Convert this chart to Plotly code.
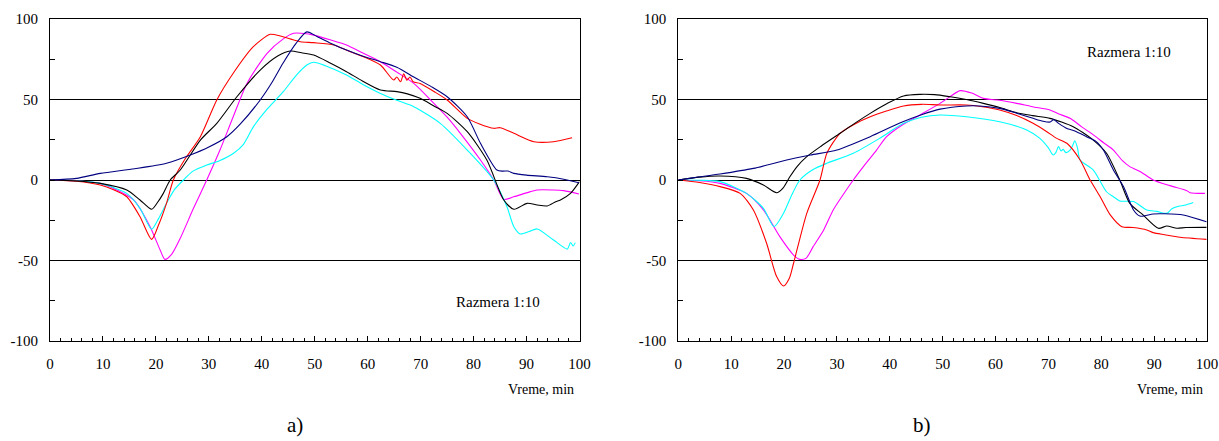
import plotly.graph_objects as go

# ---------------- data: panel a) ----------------
blue_a_x = [0, 5, 9.5, 16, 22, 26.5, 30, 33.4, 36, 39.7, 42, 44, 46.5, 48.5, 50.5, 53, 56, 59, 62.4, 65.5, 68.7, 72, 75, 78.8, 81.3, 84.4, 85.5, 86.5, 87.6, 90, 93.9, 97, 99.9]
blue_a_y = [0, 1, 4.1, 7, 10.4, 15.5, 20.5, 26.9, 35, 49.7, 61, 72.5, 85, 92, 89, 85, 80.7, 77, 73.5, 70, 64, 58, 51.7, 39.3, 22.8, 6.2, 5.5, 5.6, 4.1, 3, 2, 0.5, -1.7]

red_a_x = [0, 5, 9.5, 12, 14.5, 17, 19.2, 20.5, 22, 23.3, 25.5, 28.4, 31.5, 34.6, 38.4, 41.6, 43.5, 45.5, 47.3, 49.8, 53.6, 56.5, 59.2, 62.4, 64.9, 65.5, 66.2, 66.8, 67.4, 68, 68.6, 69.9, 72.5, 75, 78.8, 81, 83.8, 85, 87.6, 91.4, 95.1, 98.6]
red_a_y = [0, -0.8, -3.1, -6, -10.4, -22.8, -36.9, -28, -14.5, 0, 13, 26.9, 49.7, 66.3, 82.8, 90.5, 89.4, 87.5, 85.9, 85.3, 83.9, 80, 76.6, 71.4, 62.1, 64, 61, 66, 62, 64, 61, 60, 55, 49.7, 38.3, 35, 32.1, 32.5, 29, 23.8, 23.8, 26.3]

magenta_a_x = [0, 5, 9.5, 12.5, 15.8, 18.9, 20.8, 21.7, 23, 24.6, 27.1, 29.6, 32.1, 34.6, 37.2, 41, 44, 46, 48, 49.8, 53, 56, 59, 62.4, 65.5, 68.7, 72.5, 75, 77.5, 81.3, 83.8, 85.7, 87.6, 90, 92, 95, 97, 99.9]
magenta_a_y = [0, -0.6, -2.1, -6, -12.4, -29, -43.5, -49.3, -46, -36.2, -17.6, 0, 18.6, 39.3, 60, 78.7, 87.5, 91.1, 91, 90, 87, 83.9, 79, 73.5, 67, 60, 47.6, 39, 29, 12.4, 0, -12, -10.4, -8, -6.2, -6.2, -6.6, -8.7]

black_a_x = [0, 5, 9.5, 14.5, 17, 19.2, 20.3, 21.4, 22.7, 24.6, 28.4, 31.5, 35.3, 39.7, 43, 45.4, 47.5, 49.8, 53, 56, 59, 62.4, 65.5, 67.5, 69.9, 72.5, 75, 78.8, 82.5, 85.7, 87.6, 90.1, 92, 93.9, 95.5, 96.4, 98.3, 100]
black_a_y = [0, -0.6, -2.1, -6.2, -12.4, -18.2, -14, -8.3, 0, 6.2, 24.8, 35.2, 51.7, 68.3, 77, 80.1, 79, 77.6, 72.5, 67.3, 61.5, 55.9, 54.9, 53.5, 50.7, 46, 41.4, 30, 12.4, -12.4, -18.2, -14.5, -15.5, -16.1, -13.5, -12.4, -8.3, -1]

cyan_a_x = [0, 5, 9.5, 14.5, 17, 19.2, 20.5, 22, 23.5, 25.2, 27, 29.6, 32, 34.6, 36.5, 38.4, 41, 44.1, 46.5, 48.5, 49.8, 52, 56, 59, 62.4, 65.5, 68.7, 73.7, 78.8, 83.8, 86.3, 87.6, 88.8, 90.5, 92, 95.1, 97.7, 98.3, 98.8, 99.2]
cyan_a_y = [0, -0.6, -2.1, -8.3, -17.6, -30.6, -24, -14.5, -6, 0, 5.5, 9.3, 12, 16.5, 22, 33, 44, 55, 65, 71.4, 73.1, 71, 65.2, 59.5, 53.8, 49.5, 45.5, 35.2, 18.6, 0, -16.6, -29, -33.5, -32, -30.4, -37.3, -42.9, -38.8, -41, -38.9]

# ---------------- data: panel b) ----------------
blue_b_x = [0, 3, 7.9, 14.2, 20.5, 25, 30, 36.3, 42, 46, 49.5, 54.5, 57, 60.8, 64, 67.1, 69, 70.3, 71, 72, 73.5, 75, 77.2, 79, 80.4, 82.3, 84.2, 86.1, 87.3, 89.8, 92, 95.5, 99.9]
blue_b_y = [0, 1.5, 3.7, 7.2, 12.4, 15.5, 18.6, 26.9, 35.5, 40.5, 44, 46, 46, 44.5, 41.5, 38.3, 36.5, 36, 37.5, 35, 32, 30.5, 26.9, 24, 18.6, 6.2, -4.1, -18.6, -22.4, -21.1, -21, -21.7, -25.9]

black_b_x = [0, 4, 7.9, 12.9, 16.1, 18.6, 19.8, 21.1, 22.5, 24.3, 27, 30.6, 33.5, 36.3, 39.5, 42.6, 45.7, 48.5, 51.4, 54.5, 57.7, 60.8, 64, 67, 70.3, 72.5, 74.7, 76.5, 78.5, 81, 83.5, 85.4, 87.9, 90.8, 92.4, 94.3, 96, 99.9]
black_b_y = [0, 1.8, 2.5, 1, -3.1, -7.9, -5, 2, 8.5, 14.5, 21, 29, 35.5, 41.4, 47.5, 52.2, 53.2, 53, 51.7, 50, 47.6, 45, 41.8, 40, 38.3, 36, 33.1, 29.5, 24.8, 16.6, 0, -14.5, -21.7, -30, -28.6, -30, -29.5, -29.4]

red_b_x = [0, 4, 7.9, 11.7, 14.2, 16.7, 18.6, 19.9, 21, 21.8, 24.3, 26.8, 28.1, 30.6, 33.5, 36.3, 39.5, 42.6, 46, 49.5, 54.5, 57.5, 60.8, 64, 67.1, 69.7, 71.5, 73.5, 76, 77.9, 79.8, 81.7, 83.9, 86, 88.6, 89.8, 92, 94.9, 99.9]
red_b_y = [0, -1.5, -4.1, -8.3, -18.6, -39.3, -60, -65.8, -61, -51.7, -20.7, 0, 16.6, 29, 35, 39.3, 43, 46, 47, 46.6, 46.6, 45.5, 43.5, 40, 35.2, 30, 26, 22.8, 12.4, 0, -10.4, -21.7, -29, -29.5, -31, -32.7, -34, -35.6, -36.9]

magenta_b_x = [0, 4, 7.9, 12.9, 16.1, 19.2, 21.8, 23, 24.2, 25.5, 27.5, 29.3, 31.2, 33.1, 35.3, 37.5, 39.4, 42.5, 45.7, 49.5, 51.5, 53.3, 55.5, 57.7, 60.8, 64, 67, 70.3, 72, 74.1, 76.3, 78.5, 80.5, 82.3, 84, 85.4, 87.5, 89.8, 93, 96.2, 96.8, 99.6]
magenta_b_y = [0, -0.5, -2.1, -8.3, -18.6, -35.2, -46.6, -49.3, -48.5, -41.4, -31, -18.6, -9, 0, 9.5, 18.6, 26.9, 34.5, 40.4, 47.6, 52, 55.5, 54, 50.7, 49.5, 47.6, 45.5, 43.5, 41, 38.3, 33, 28, 23, 18.6, 12, 8.3, 5, 0, -3.5, -6.6, -7.9, -8.3]

cyan_b_x = [0, 4, 7.9, 12.9, 16.1, 18.1, 19.9, 21.5, 23, 25.5, 28.1, 33.1, 38.1, 42.6, 46, 49.5, 54.5, 60.8, 65.9, 68.4, 70, 70.9, 71.4, 71.9, 72.4, 72.8, 73.3, 74.1, 74.6, 75, 75.5, 76, 78.5, 81, 82.3, 83.5, 86.1, 88.6, 90.5, 92.4, 93.3, 94.3, 96, 97.4]
cyan_b_y = [0, -0.2, -1, -8.3, -17.6, -29, -20.7, -9, 0, 6.5, 10.4, 16.6, 25.9, 35.2, 39, 40.4, 39.3, 36.2, 31.1, 25.9, 20, 15.5, 17, 20.7, 18, 19, 17, 18.5, 21.5, 24.4, 20, 12.4, 6.2, -7.3, -10.4, -13, -13.4, -18.6, -19.5, -20.7, -18, -16.6, -15.5, -14]

x_tick_vals = list(range(0, 101, 10))
y_tick_vals = [-100, -50, 0, 50, 100]
y_tick_text = ["-100", "-50", "0", "50", "100"]
panel_labels = ["a)", "b)"]
note_text = "Razmera 1:10"
x_title = "Vreme, min"

COL = {"blue": "#000080", "red": "#FF0000", "magenta": "#FF00FF", "black": "#000000", "cyan": "#00FFFF"}
FONT = "'Liberation Serif', 'Times New Roman', serif"

series_a = [("magenta", magenta_a_x, magenta_a_y), ("cyan", cyan_a_x, cyan_a_y),
            ("red", red_a_x, red_a_y), ("black", black_a_x, black_a_y), ("blue", blue_a_x, blue_a_y)]
series_b = [("magenta", magenta_b_x, magenta_b_y), ("cyan", cyan_b_x, cyan_b_y),
            ("red", red_b_x, red_b_y), ("black", black_b_x, black_b_y), ("blue", blue_b_x, blue_b_y)]

fig = go.Figure()
for axn, series in (("", series_a), ("2", series_b)):
    for col, xs, ys in series:
        fig.add_trace(go.Scatter(x=xs, y=ys, mode="lines", xaxis="x" + axn, yaxis="y" + axn,
                                 line=dict(color=COL[col], width=1.1, shape="spline", smoothing=0.7),
                                 showlegend=False, hoverinfo="skip"))

# figure fills the whole 1219x441 window (body margin removed by post_script)
W, H = 1219, 441
T = 19
B = H - 341
PH = H - T - B

def fx(px):
    return px / W

def fy(py):
    return (H - B - py) / PH

def xaxis(domain, anchor):
    return dict(domain=domain, anchor=anchor, range=[0, 100], showgrid=False, zeroline=False, automargin=False,
                showline=True, linecolor="black", linewidth=1, mirror=True,
                tickmode="array", tickvals=x_tick_vals, ticks="inside", ticklen=5, tickcolor="black",
                ticklabelstandoff=9,
                minor=dict(tickmode="linear", tick0=0, dtick=2, ticks="inside", ticklen=3, tickcolor="black", showgrid=False),
                tickfont=dict(family=FONT, size=15, color="black"))

def yaxis(anchor):
    return dict(anchor=anchor, domain=[0, 1], range=[-100, 100], showgrid=True, gridcolor="black", gridwidth=1,
                zeroline=False, showline=True, linecolor="black", linewidth=1, mirror=True, automargin=False,
                tickmode="array", tickvals=y_tick_vals, ticktext=y_tick_text, ticks="inside", ticklen=5, tickcolor="black",
                ticklabelstandoff=8,
                minor=dict(tickmode="linear", tick0=0, dtick=25, ticks="inside", ticklen=5, tickcolor="black", showgrid=False),
                tickfont=dict(family=FONT, size=15, color="black"))

annotations = []
for label, (cx_title, cx_label) in zip(panel_labels, [(541, 295), (1170, 922)]):
    annotations.append(dict(x=fx(cx_title), y=fy(389), xref="paper", yref="paper", text=x_title, showarrow=False,
                            xanchor="center", yanchor="middle", font=dict(family=FONT, size=14, color="black")))
    annotations.append(dict(x=fx(cx_label), y=fy(425), xref="paper", yref="paper", text=label, showarrow=False,
                            xanchor="center", yanchor="middle", font=dict(family=FONT, size=21, color="black")))
annotations.append(dict(x=84.7, y=-75.8, xref="x", yref="y", text=note_text, showarrow=False,
                        xanchor="center", yanchor="middle", font=dict(family=FONT, size=15, color="black")))
annotations.append(dict(x=85.2, y=79.5, xref="x2", yref="y2", text=note_text, showarrow=False,
                        xanchor="center", yanchor="middle", font=dict(family=FONT, size=15, color="black")))

fig.update_layout(
    width=W, height=H, paper_bgcolor="white", plot_bgcolor="white",
    margin=dict(l=0, r=0, t=T, b=B, pad=0, autoexpand=False),
    xaxis=xaxis([fx(50), fx(579.5)], "y"),
    yaxis=yaxis("x"),
    xaxis2=xaxis([fx(678.3), fx(1207)], "y2"),
    yaxis2=yaxis("x2"),
    annotations=annotations,
)

fig.write_html("out.html", config={"displayModeBar": False},
               post_script="document.body.style.margin='0';document.body.style.overflow='hidden';")
